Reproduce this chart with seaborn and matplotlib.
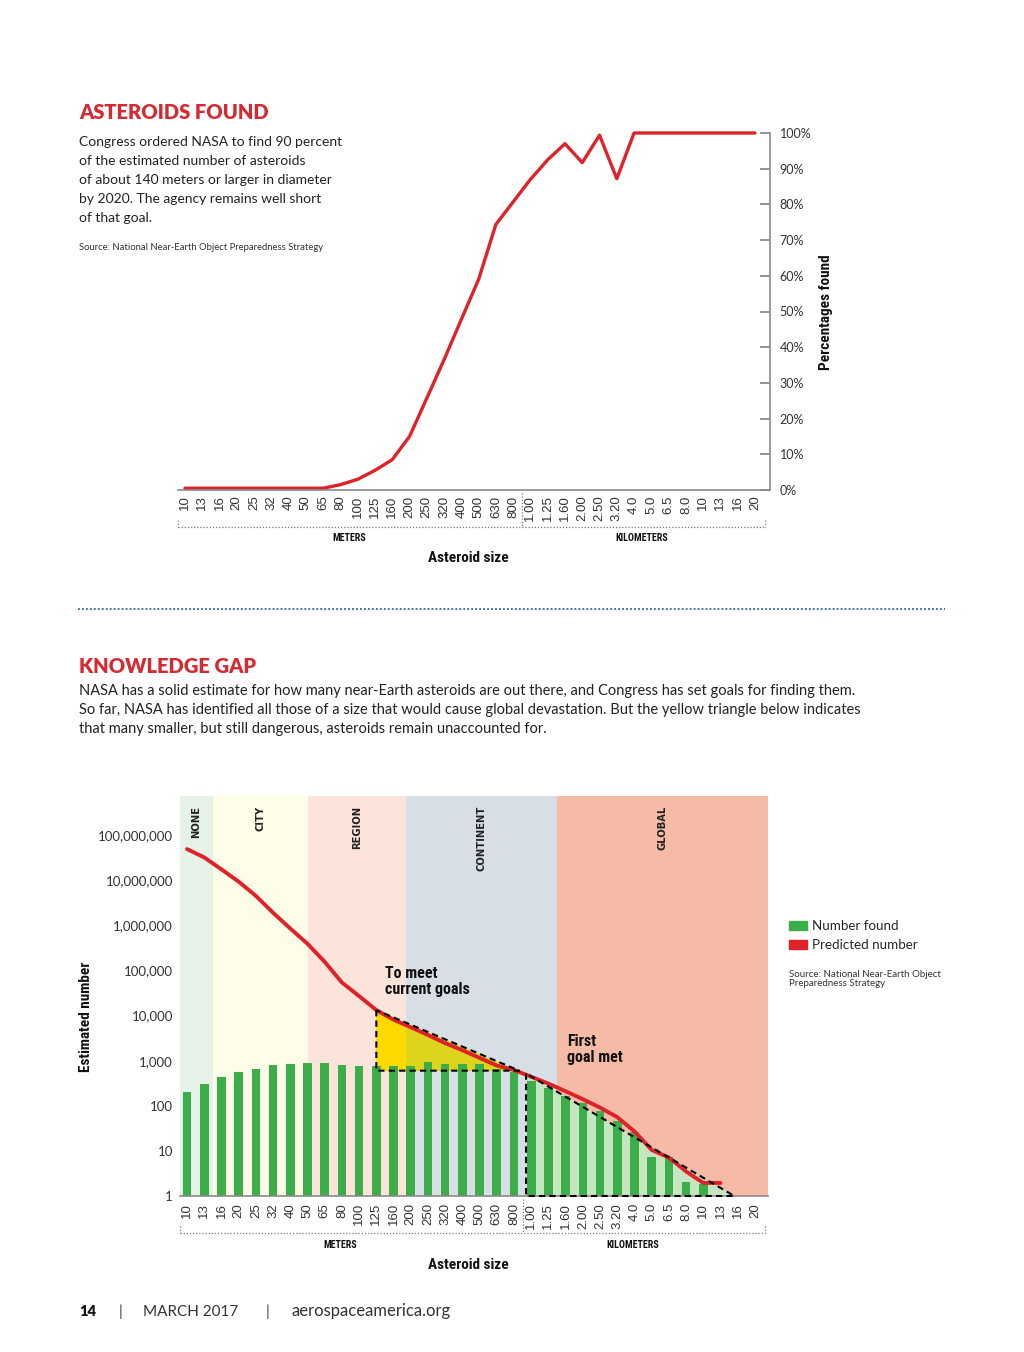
import numpy as np
import pandas as pd
import matplotlib
matplotlib.use('Agg')
import matplotlib.pyplot as plt
import seaborn as sns
from matplotlib import font_manager
from matplotlib.patches import Patch
from matplotlib.lines import Line2D
from matplotlib.ticker import NullLocator

# asteroid sizes: first 20 in meters, then kilometers
size_labels = ['10', '13', '16', '20', '25', '32', '40', '50', '65', '80',
               '100', '125', '160', '200', '250', '320', '400', '500', '630', '800',
               '1.00', '1.25', '1.60', '2.00', '2.50', '3.20', '4.0', '5.0', '6.5', '8.0',
               '10', '13', '16', '20']
n_meters = 20

# top chart: percentage found per size
pct_found = [0.5, 0.5, 0.5, 0.5, 0.5, 0.5, 0.5, 0.5, 0.5, 1.5,
             3, 5.5, 8.5, 15, 25.7, 36.5, 47.8, 59, 74.4, 80.7,
             87, 92.5, 97, 91.7, 99.4, 87.2, 100, 100, 100, 100,
             100, 100, 100, 100]

# bottom chart: number found (bars) and predicted number (line)
number_found = [200, 300, 440, 570, 640, 790, 840, 870, 870, 790,
                750, 750, 770, 770, 930, 850, 850, 850, 640, 560,
                360, 245, 165, 115, 76, 45, 26, 7.5, 7.5, 2,
                1.8, np.nan, np.nan, np.nan]
predicted = [49e6, 32e6, 17.4e6, 9.3e6, 4.5e6, 1.9e6, 850e3, 390e3, 155e3, 54e3,
             27e3, 13200, 8100, 5500, 3700, 2450, 1700, 1150, 780, 620,
             440, 310, 210, 140, 91, 56, 27, 10.5, 7.1, 3.5,
             1.95, 1.95, np.nan, np.nan]

# damage zones (band edges in size-index units)
zone_names = ['NONE', 'CITY', 'REGION', 'CONTINENT', 'GLOBAL']
zone_edges = [-0.41, 1.5, 7.0, 12.75, 21.5, 33.76]
zone_colors = ['#e6f1e8', '#fdfde8', '#fce4da', '#d8dee6', '#f5bba7']

# goal triangles
gap_x = [11, 19.3]          # still to find to meet current goals
gap_y = [13200, 600]
met_x = [19.7, 31.8]        # first goal met
met_y = [520, 1]

red = '#df2229'
green = '#3bae49'
title_red = '#d42a33'

sns.set_style('white')
plt.rcParams['font.family'] = ['Lato', 'DejaVu Sans']

# look for a condensed bold face for the narrow labels
names = {f.name for f in font_manager.fontManager.ttflist}
narrow, stretch, shrink = 'Roboto', 'normal', 0.88
for cand in ['Roboto Condensed', 'Liberation Sans Narrow', 'DejaVu Sans Condensed',
             'Open Sans Condensed', 'Noto Sans Condensed', 'Lato Condensed']:
    if cand in names:
        narrow, stretch, shrink = cand, 'condensed', 1.0
        break
else:
    for f in font_manager.fontManager.ttflist:
        if str(f.stretch) in ('condensed', 'semi-condensed', 'extra-condensed') \
                and f.weight in (600, 700, 'bold', 'semibold'):
            narrow, stretch, shrink = f.name, f.stretch, 1.0
            break

W, H = 1024, 1352
fig = plt.figure(figsize=(W / 100, H / 100), dpi=100)


def fx(x):
    return x / W


def fy(y):
    return 1 - y / H


idx = np.arange(len(size_labels))
df = pd.DataFrame({'idx': idx, 'size': size_labels, 'pct': pct_found,
                   'found': number_found, 'predicted': predicted})

# ---------------- top chart ----------------
ax1 = fig.add_axes([fx(178), fy(490), (770 - 178) / W, (490 - 133) / H])
sns.lineplot(data=df, x='idx', y='pct', color=red, linewidth=2.4, ax=ax1)
ax1.lines[0].set_clip_on(False)
ax1.set_xlim(-0.405, 33.87)
ax1.set_ylim(0, 100)
ax1.set_xlabel('')
ax1.set_ylabel('')
for s in ['top', 'left']:
    ax1.spines[s].set_visible(False)
for s in ['right', 'bottom']:
    ax1.spines[s].set_color('#8a8a8a')
    ax1.spines[s].set_linewidth(1.2)
ax1.yaxis.tick_right()
ax1.set_yticks(range(0, 101, 10))
ax1.set_yticklabels([f'{v}%' for v in range(0, 101, 10)])
ax1.tick_params(axis='y', direction='in', length=7, width=1.1, color='#777',
                pad=7, labelsize=9, labelcolor='#333')
ax1.set_xticks(idx)
ax1.set_xticklabels(size_labels, rotation=90, family=['Liberation Sans', 'DejaVu Sans'])
ax1.tick_params(axis='x', length=0, pad=4, labelsize=9.5, labelcolor='#333')

# ---------------- bottom chart ----------------
ax2 = fig.add_axes([fx(180), fy(1196), (768 - 180) / W, (1196 - 796) / H])
for i, name in enumerate(zone_names):
    ax2.axvspan(zone_edges[i], zone_edges[i + 1], color=zone_colors[i], lw=0, zorder=0)
    ax2.text((zone_edges[i] + zone_edges[i + 1]) / 2, 0.975, name,
             transform=ax2.get_xaxis_transform(), rotation=90, ha='center', va='top',
             fontsize=7.2, fontweight='bold', color='#222', family='DejaVu Sans')

sns.barplot(data=df, x='idx', y='found', native_scale=True, width=0.5,
            color=green, saturation=1, errorbar=None, linewidth=0, ax=ax2)
for bar in ax2.containers[0]:
    bar.set_zorder(2)
ax2.set_yscale('log')

# yellow triangle, split where it crosses into the continent zone
split = zone_edges[3]
t = (split - gap_x[0]) / (gap_x[1] - gap_x[0])
y_split = gap_y[0] * (gap_y[1] / gap_y[0]) ** t
ax2.fill([gap_x[0], gap_x[0], split, split], [gap_y[0], gap_y[1], gap_y[1], y_split],
         color='#ffda00', lw=0, zorder=1)
ax2.fill([split, split, gap_x[1]], [y_split, gap_y[1], gap_y[1]],
         color='#ddd51c', lw=0, zorder=1)
# light green triangle
ax2.fill([met_x[0], met_x[0], met_x[1]], [met_y[0], met_y[1], met_y[1]],
         color='#c6e5c1', lw=0, zorder=1)

sns.lineplot(data=df, x='idx', y='predicted', color=red, linewidth=2.8, ax=ax2, zorder=3)

for xs, ys in [(gap_x, gap_y), (met_x, met_y)]:
    ax2.plot([xs[0], xs[0], xs[1], xs[0]], [ys[0], ys[1], ys[1], ys[0]],
             color='black', lw=1.5, ls=(0, (3, 2)), zorder=4, clip_on=False)

ax2.set_xlim(zone_edges[0], zone_edges[-1])
ax2.set_ylim(1, 10 ** 8.867)
ax2.set_xlabel('')
ax2.set_ylabel('')
for s in ['top', 'left', 'right']:
    ax2.spines[s].set_visible(False)
ax2.spines['bottom'].set_color('#8a8a8a')
ax2.spines['bottom'].set_linewidth(1.2)
ax2.set_yticks([1, 10, 100, 1e3, 1e4, 1e5, 1e6, 1e7, 1e8])
ax2.set_yticklabels(['1', '10', '100', '1,000', '10,000', '100,000',
                     '1,000,000', '10,000,000', '100,000,000'])
ax2.yaxis.set_minor_locator(NullLocator())
ax2.tick_params(axis='y', length=0, pad=5, labelsize=9.5, labelcolor='#333')
ax2.set_xticks(idx)
ax2.set_xticklabels(size_labels, rotation=90, family=['Liberation Sans', 'DejaVu Sans'])
ax2.tick_params(axis='x', length=0, pad=5, labelsize=9.5, labelcolor='#333')

ax2.legend(handles=[Patch(color=green, label='Number found'),
                    Patch(color=red, label='Predicted number')],
           loc='upper left', bbox_to_anchor=(fx(789), fy(920)), bbox_transform=fig.transFigure,
           frameon=False, fontsize=9.6, handlelength=1.35, handleheight=0.7,
           handletextpad=0.35, labelspacing=0.55, borderpad=0, borderaxespad=0)

# meters / kilometers brackets under both charts
for ax, y_br, y_tick, y_top in [(ax1, 527, 520, 493), (ax2, 1233, 1226, 1199)]:
    x0, x1 = ax.get_xlim()[0], 33.6
    trans = ax.get_xaxis_transform()
    pos = ax.get_position()

    def ay(y):
        return (fy(y) - pos.y0) / pos.height

    kw = dict(color='#777', lw=0.9, ls=(0, (1, 1.5)), transform=trans, clip_on=False)
    ax.add_line(Line2D([x0, x1], [ay(y_br), ay(y_br)], **kw))
    ax.add_line(Line2D([x0, x0], [ay(y_tick), ay(y_br)], **kw))
    ax.add_line(Line2D([x1, x1], [ay(y_tick), ay(y_br)], **kw))
    ax.add_line(Line2D([n_meters - 0.5, n_meters - 0.5], [ay(y_top), ay(y_br)], **kw))

bold_narrow = dict(family=[narrow, 'DejaVu Sans'], fontweight='bold', stretch=stretch,
                   color='#111')
small, big, mid = 7.2 * shrink, 11 * shrink, 11.5 * shrink
fig.text(fx(349), fy(538), 'METERS', ha='center', va='center', fontsize=small, **bold_narrow)
fig.text(fx(642), fy(538), 'KILOMETERS', ha='center', va='center', fontsize=small, **bold_narrow)
fig.text(fx(468), fy(558), 'Asteroid size', ha='center', va='center', fontsize=big, **bold_narrow)
fig.text(fx(340), fy(1245), 'METERS', ha='center', va='center', fontsize=small, **bold_narrow)
fig.text(fx(633), fy(1245), 'KILOMETERS', ha='center', va='center', fontsize=small, **bold_narrow)
fig.text(fx(468), fy(1265), 'Asteroid size', ha='center', va='center', fontsize=big, **bold_narrow)
fig.text(fx(826), fy(312), 'Percentages found', rotation=90, ha='center', va='center',
         fontsize=big, **bold_narrow)
fig.text(fx(86), fy(1017), 'Estimated number', rotation=90, ha='center', va='center',
         fontsize=big, **bold_narrow)
fig.text(fx(385), fy(966), 'To meet\ncurrent goals', ha='left', va='top', fontsize=mid,
         linespacing=1.1, **bold_narrow)
fig.text(fx(567), fy(1034), 'First\ngoal met', ha='left', va='top', fontsize=mid,
         linespacing=1.1, **bold_narrow)

# headings and body text
fig.text(fx(79), fy(119), 'ASTEROIDS FOUND', fontsize=14.5, fontweight='heavy',
         color=title_red, va='baseline')
top_lines = ['Congress ordered NASA to find 90 percent',
             'of the estimated number of asteroids',
             'of about 140 meters or larger in diameter',
             'by 2020. The agency remains well short',
             'of that goal.']
for k, line in enumerate(top_lines):
    fig.text(fx(79), fy(146 + 19 * k), line, fontsize=10, color='#222', va='baseline')
fig.text(fx(79), fy(250), 'Source: National Near-Earth Object Preparedness Strategy',
         fontsize=6.8, color='#333', va='baseline')

fig.add_artist(Line2D([fx(78), fx(945)], [fy(609), fy(609)], color='#2d62ad', lw=1.3,
                      ls=(0, (1, 1.2))))

fig.text(fx(79), fy(673), 'KNOWLEDGE GAP', fontsize=14.5, fontweight='heavy',
         color=title_red, va='baseline')
gap_lines = ['NASA has a solid estimate for how many near-Earth asteroids are out there, '
             'and Congress has set goals for finding them.',
             'So far, NASA has identified all those of a size that would cause global '
             'devastation. But the yellow triangle below indicates',
             'that many smaller, but still dangerous, asteroids remain unaccounted for.']
for k, line in enumerate(gap_lines):
    fig.text(fx(79), fy(695 + 19 * k), line, fontsize=10.5, color='#222', va='baseline')

fig.text(fx(789), fy(986), 'Source: National Near-Earth Object\nPreparedness Strategy',
         fontsize=7, color='#333', va='baseline', linespacing=1.05)

# footer
fig.text(fx(79), fy(1316), '14', fontsize=10.5, fontweight='heavy', color='#111', va='baseline')
fig.text(fx(119), fy(1316), '|', fontsize=10.5, color='#333', va='baseline')
fig.text(fx(143), fy(1316), 'MARCH 2017', fontsize=11, color='#333', va='baseline')
fig.text(fx(266), fy(1316), '|', fontsize=10.5, color='#333', va='baseline')
fig.text(fx(291), fy(1316), 'aerospaceamerica.org', fontsize=12, color='#333', va='baseline')

fig.savefig('out.png', dpi=100, facecolor='white')
